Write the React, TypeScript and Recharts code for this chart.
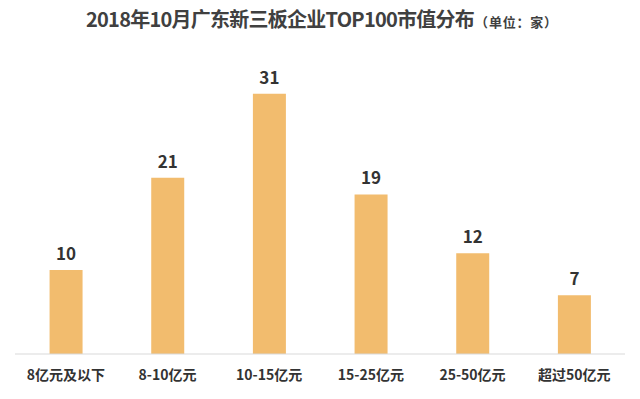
import React from "react";
import { BarChart, Bar, XAxis, YAxis, LabelList } from "recharts";

const categories = ["8亿元及以下", "8-10亿元", "10-15亿元", "15-25亿元", "25-50亿元", "超过50亿元"];
const counts = [10, 21, 31, 19, 12, 7];

const data = categories.map((c, i) => ({ name: c, value: counts[i] }));

if (typeof document !== "undefined") {
  document.body.style.margin = "0";
}

const FONT = '"Noto Sans CJK SC", "Microsoft YaHei", sans-serif';

export default function App() {
  return (
    <div style={{ position: "relative", width: 640, height: 399, background: "#fff", fontFamily: FONT }}>
      <div
        style={{
          position: "absolute",
          top: 4,
          left: 86,
          color: "#404040",
          whiteSpace: "nowrap",
        }}
      >
        <span style={{ fontSize: 20, fontWeight: 700, letterSpacing: -0.75 }}>2018年10月广东新三板企业TOP100市值分布</span>
        <span style={{ fontSize: 13, fontWeight: 700, letterSpacing: 0.8, marginLeft: 1 }}>（单位：家）</span>
      </div>
      <div style={{ position: "absolute", top: 0, left: 0 }}>
        <BarChart
          width={640}
          height={399}
          data={data}
          margin={{ top: 40, right: 15, bottom: 0, left: 15 }}
          barCategoryGap="34%"
        >
          <XAxis
            dataKey="name"
            axisLine={{ stroke: "#d9d9d9" }}
            tickLine={false}
            tick={{ fill: "#333", fontSize: 14, fontWeight: 700, fontFamily: FONT }}
            tickMargin={10}
            height={45}
          />
          <YAxis hide domain={[0, 37.4]} />
          <Bar dataKey="value" fill="#F2BC6E" isAnimationActive={false}>
            <LabelList
              dataKey="value"
              position="top"
              offset={10}
              style={{ fill: "#333", fontSize: 17, fontWeight: 700, fontFamily: FONT }}
            />
          </Bar>
        </BarChart>
      </div>
    </div>
  );
}
